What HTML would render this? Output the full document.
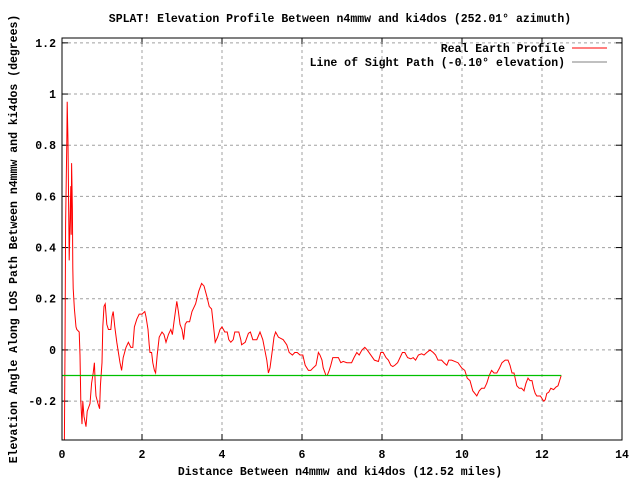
<!DOCTYPE html>
<html><head><meta charset="utf-8"><style>
body{margin:0;background:#fff}
svg text{font-family:"Liberation Mono",monospace;font-size:11.5px;font-weight:bold;fill:#000}
</style></head><body>
<svg id="c" width="640" height="480" xmlns="http://www.w3.org/2000/svg"></svg>
<script>
const profileX=[0.06,0.075,0.09,0.12,0.13,0.15,0.18,0.2,0.22,0.23,0.24,0.26,0.27,0.28,0.31,0.35,0.37,0.43,0.45,0.47,0.5,0.52,0.55,0.6,0.63,0.7,0.74,0.78,0.81,0.83,0.85,0.9,0.94,0.96,1.0,1.02,1.05,1.08,1.12,1.16,1.22,1.25,1.28,1.32,1.37,1.41,1.45,1.49,1.53,1.6,1.66,1.72,1.77,1.81,1.87,1.93,2.0,2.07,2.1,2.15,2.18,2.2,2.24,2.27,2.31,2.34,2.38,2.43,2.5,2.55,2.6,2.66,2.72,2.76,2.8,2.87,2.91,2.95,3.0,3.04,3.08,3.12,3.19,3.25,3.34,3.42,3.49,3.55,3.62,3.68,3.74,3.79,3.83,3.89,3.95,4.0,4.07,4.13,4.17,4.22,4.28,4.32,4.37,4.42,4.47,4.49,4.58,4.66,4.71,4.77,4.87,4.95,5.02,5.07,5.12,5.16,5.2,5.26,5.3,5.34,5.41,5.53,5.62,5.68,5.76,5.82,5.88,5.95,6.02,6.08,6.16,6.22,6.28,6.35,6.41,6.45,6.5,6.53,6.6,6.63,6.68,6.72,6.77,6.83,6.91,6.97,7.03,7.12,7.24,7.3,7.37,7.43,7.5,7.57,7.63,7.72,7.81,7.91,7.97,8.03,8.1,8.16,8.22,8.27,8.32,8.39,8.45,8.51,8.57,8.64,8.72,8.78,8.84,8.91,8.99,9.05,9.12,9.2,9.28,9.34,9.4,9.49,9.55,9.62,9.67,9.74,9.82,9.9,9.99,10.07,10.13,10.2,10.27,10.37,10.43,10.49,10.56,10.62,10.68,10.74,10.8,10.87,10.94,11.0,11.08,11.15,11.2,11.25,11.3,11.37,11.43,11.49,11.55,11.6,11.65,11.7,11.75,11.79,11.83,11.87,11.96,12.0,12.04,12.08,12.12,12.17,12.22,12.29,12.35,12.4,12.44,12.48];
const profileY=[-0.35,0,0.49,0.81,0.97,0.81,0.35,0.5,0.64,0.45,0.73,0.55,0.32,0.24,0.16,0.09,0.08,0.07,-0.02,-0.2,-0.29,-0.2,-0.26,-0.3,-0.24,-0.21,-0.13,-0.09,-0.05,-0.13,-0.18,-0.21,-0.23,-0.14,-0.05,0.09,0.17,0.18,0.1,0.08,0.08,0.13,0.15,0.09,0.03,-0.01,-0.05,-0.08,-0.03,0.01,0.03,0.01,0.01,0.09,0.12,0.14,0.14,0.15,0.13,0.08,0.02,-0.01,-0.01,-0.05,-0.08,-0.09,-0.02,0.05,0.07,0.06,0.03,0.06,0.08,0.06,0.11,0.19,0.15,0.1,0.08,0.04,0.1,0.11,0.11,0.15,0.18,0.23,0.26,0.25,0.21,0.17,0.16,0.09,0.03,0.05,0.08,0.09,0.07,0.07,0.04,0.03,0.04,0.07,0.07,0.07,0.04,0.02,0.03,0.065,0.07,0.04,0.04,0.07,0.04,0,-0.04,-0.09,-0.07,0,0.05,0.07,0.05,0.04,0.02,-0.01,-0.02,-0.01,-0.01,-0.02,-0.02,-0.06,-0.08,-0.08,-0.07,-0.06,-0.01,-0.02,-0.04,-0.07,-0.1,-0.1,-0.08,-0.06,-0.03,-0.03,-0.03,-0.05,-0.045,-0.05,-0.05,-0.03,-0.01,-0.02,0,0.01,0,-0.02,-0.04,-0.045,-0.01,-0.01,-0.03,-0.04,-0.06,-0.065,-0.06,-0.05,-0.03,-0.01,-0.01,-0.03,-0.035,-0.03,-0.04,-0.02,-0.015,-0.02,-0.01,0,-0.01,-0.02,-0.04,-0.04,-0.05,-0.06,-0.04,-0.04,-0.045,-0.05,-0.07,-0.08,-0.11,-0.12,-0.16,-0.18,-0.16,-0.15,-0.15,-0.13,-0.1,-0.08,-0.09,-0.09,-0.07,-0.05,-0.04,-0.04,-0.06,-0.09,-0.09,-0.14,-0.15,-0.15,-0.16,-0.13,-0.11,-0.12,-0.12,-0.15,-0.17,-0.18,-0.18,-0.19,-0.2,-0.195,-0.17,-0.165,-0.15,-0.155,-0.145,-0.14,-0.12,-0.1];
const losX=[0,12.48];
const losY=[-0.1,-0.1];
const xTicks=[0,2,4,6,8,10,12,14];
const xTickLabels=["0","2","4","6","8","10","12","14"];
const yTicks=[-0.2,0,0.2,0.4,0.6,0.8,1,1.2];
const yTickLabels=["-0.2","0","0.2","0.4","0.6","0.8","1","1.2"];
const L=62,R=622,T=38,B=440,X0=0,X1=14,Y0=-0.352,Y1=1.219;
const sx=v=>L+(v-X0)/(X1-X0)*(R-L);
const sy=v=>B-(v-Y0)/(Y1-Y0)*(B-T);
const svg=document.getElementById('c');
const NS='http://www.w3.org/2000/svg';
function mk(tag,attrs,name,txt){const e=document.createElementNS(NS,tag);for(const k in attrs)e.setAttribute(k,attrs[k]);


if(txt!==undefined)e.textContent=txt;svg.appendChild(e);return e;}
xTicks.forEach((v,i)=>{const x=sx(v);
if(i>0&&i<xTicks.length-1)mk('line',{x1:x,x2:x,y1:T,y2:B,stroke:'#a0a0a0','stroke-dasharray':'3,3'},'x-grid-line');
mk('line',{x1:x,x2:x,y1:B,y2:B-6,stroke:'#000'},'x-tick');
mk('line',{x1:x,x2:x,y1:T,y2:T+6,stroke:'#000'},'x-tick-top');
mk('text',{x:x,y:B+18,'text-anchor':'middle'},'x-tick-label',xTickLabels[i]);});
yTicks.forEach((v,i)=>{const y=sy(v);
mk('line',{x1:L,x2:R,y1:y,y2:y,stroke:'#a0a0a0','stroke-dasharray':'3,3'},'y-grid-line');
mk('line',{x1:L,x2:L+6,y1:y,y2:y,stroke:'#000'},'y-tick');
mk('line',{x1:R,x2:R-6,y1:y,y2:y,stroke:'#000'},'y-tick-right');
mk('text',{x:L-6,y:y+4,'text-anchor':'end'},'y-tick-label',yTickLabels[i]);});
mk('polyline',{points:profileX.map((x,i)=>sx(x)+','+sy(profileY[i])).join(' '),fill:'none',stroke:'#ff0000','stroke-width':1},'real-earth-profile-line');
mk('polyline',{points:losX.map((x,i)=>sx(x)+','+sy(losY[i])).join(' '),fill:'none',stroke:'#00c000','stroke-width':1.2},'line-of-sight-path');
mk('rect',{x:L,y:T,width:R-L,height:B-T,fill:'none',stroke:'#000'},'plot-frame');
mk('text',{x:340,y:22,'text-anchor':'middle'},'chart-title','SPLAT! Elevation Profile Between n4mmw and ki4dos (252.01° azimuth)');
mk('text',{x:340,y:475,'text-anchor':'middle'},'x-axis-title','Distance Between n4mmw and ki4dos (12.52 miles)');
mk('text',{x:0,y:0,'text-anchor':'middle',transform:'translate(17,239) rotate(-90)'},'y-axis-title','Elevation Angle Along LOS Path Between n4mmw and ki4dos (degrees)');
mk('text',{x:565,y:52,'text-anchor':'end'},'legend-label-real-earth','Real Earth Profile');
mk('line',{x1:572,x2:607,y1:48,y2:48,stroke:'#ff0000'},'legend-swatch-real-earth');
mk('text',{x:565,y:66,'text-anchor':'end'},'legend-label-los','Line of Sight Path (-0.10° elevation)');
mk('line',{x1:572,x2:607,y1:62,y2:62,stroke:'#808080'},'legend-swatch-los');
</script>
</body></html>
